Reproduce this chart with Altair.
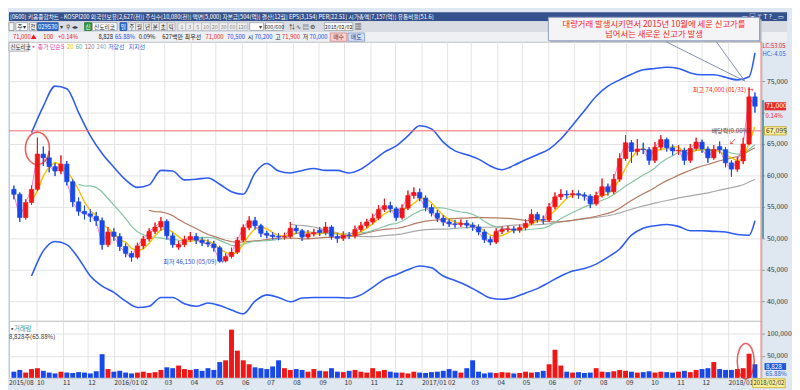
import altair as alt
import pandas as pd

FONT = "Noto Sans CJK KR"

# ---------------- data: weekly candles (thousand KRW), volumes (thousand shares) -------------
first_week = "2015-09-04"
opens = [57.8, 57.0, 53.3, 55.7, 57.8, 63.4, 62.8, 61.4, 60.7, 61.8,
         59.0, 55.8, 54.3, 53.9, 53.5, 52.8, 49.0, 51.0, 50.3, 48.7,
         47.6, 47.0, 48.8, 49.9, 51.1, 51.8, 52.7, 50.4, 48.6, 49.0,
         49.8, 50.3, 49.7, 49.3, 49.1, 48.5, 46.4, 47.1, 47.8, 49.7,
         51.7, 52.8, 52.0, 50.8, 50.5, 50.3, 50.2, 50.3, 51.6, 51.2,
         50.2, 50.7, 51.3, 50.9, 51.8, 50.3, 50.0, 50.5, 50.4, 51.4,
         52.0, 52.6, 53.2, 54.6, 55.2, 54.7, 53.3, 54.8, 56.8, 57.3,
         56.4, 54.9, 54.0, 53.2, 52.6, 52.3, 52.2, 52.4, 52.1, 51.8,
         51.0, 49.8, 49.4, 51.1, 51.4, 51.5, 51.3, 51.7, 52.4, 53.8,
         53.0, 52.9, 55.0, 56.6, 57.0, 56.9, 57.1, 56.9, 56.7, 55.5,
         56.8, 58.2, 57.4, 59.4, 62.7, 65.2, 63.8, 64.2, 64.1, 62.4,
         64.5, 65.7, 64.4, 63.9, 64.0, 62.4, 64.3, 65.3, 64.2, 62.8,
         64.6, 64.1, 62.0, 61.0, 62.3, 65.0, 72.5]
closes = [57.0, 53.3, 55.7, 57.8, 63.4, 62.8, 61.4, 60.7, 61.8, 59.0,
          55.8, 54.3, 53.9, 53.5, 52.8, 49.0, 51.0, 50.3, 48.7, 47.6,
          47.0, 48.8, 49.9, 51.1, 51.8, 52.7, 50.4, 49.0, 49.0, 49.8,
          50.3, 49.7, 49.3, 49.1, 48.5, 46.4, 47.1, 47.8, 49.7, 51.7,
          52.8, 52.0, 50.8, 50.5, 50.3, 50.2, 50.3, 51.6, 51.2, 50.2,
          50.7, 50.9, 50.9, 51.8, 50.3, 50.0, 50.5, 50.4, 51.4, 52.0,
          52.6, 53.2, 54.6, 55.2, 54.7, 53.3, 54.8, 56.8, 57.3, 56.4,
          54.9, 54.0, 53.2, 52.6, 52.3, 52.2, 52.4, 52.1, 51.8, 51.0,
          49.8, 49.4, 51.1, 51.4, 51.5, 51.3, 51.7, 52.4, 53.8, 53.0,
          52.9, 55.0, 56.6, 57.0, 56.9, 57.1, 56.9, 56.7, 55.5, 56.8,
          58.2, 57.4, 59.4, 62.7, 65.2, 63.8, 64.2, 64.1, 62.4, 64.5,
          65.7, 64.4, 63.9, 64.0, 62.4, 64.3, 65.3, 64.2, 62.8, 64.1,
          64.1, 62.0, 61.0, 62.3, 65.0, 72.5, 71.0]
highs = [58.4, 57.3, 56.2, 58.4, 66.0, 64.6, 63.9, 62.0, 63.2, 62.3,
         59.4, 56.5, 55.2, 54.6, 54.2, 53.3, 51.8, 51.6, 50.8, 49.2,
         48.0, 49.3, 50.4, 51.6, 52.5, 53.4, 53.0, 50.9, 49.6, 50.4,
         51.0, 50.8, 50.2, 49.8, 49.6, 48.8, 47.6, 48.5, 50.2, 52.2,
         53.5, 53.4, 52.3, 51.2, 51.0, 50.8, 50.9, 52.6, 52.1, 51.5,
         51.3, 51.5, 51.8, 52.6, 52.1, 50.8, 51.1, 51.0, 52.0, 52.6,
         53.1, 53.9, 55.3, 56.3, 55.8, 55.0, 55.4, 57.6, 58.1, 57.9,
         56.8, 55.4, 54.5, 53.7, 53.1, 52.9, 53.0, 52.9, 52.5, 52.2,
         51.4, 50.3, 51.6, 51.9, 52.0, 51.9, 52.2, 53.0, 54.6, 54.2,
         53.6, 55.6, 57.3, 57.8, 57.6, 57.7, 57.6, 57.3, 57.0, 57.4,
         59.5, 58.7, 60.2, 63.5, 66.4, 65.6, 65.8, 65.2, 64.5, 65.3,
         66.4, 66.0, 64.9, 64.8, 64.4, 65.0, 66.0, 65.7, 64.6, 64.8,
         65.4, 64.5, 62.4, 62.9, 66.0, 74.0, 73.2]
lows = [56.2, 52.6, 53.0, 55.3, 57.5, 61.5, 60.5, 59.9, 60.2, 58.4,
        55.0, 53.6, 53.0, 52.6, 52.0, 48.2, 48.6, 49.6, 48.0, 47.0,
        46.3, 46.7, 48.3, 49.5, 50.7, 51.2, 49.8, 48.5, 48.2, 48.6,
        49.4, 49.1, 48.8, 48.6, 47.9, 46.15, 46.2, 46.8, 47.5, 49.4,
        51.3, 51.4, 50.2, 50.0, 49.8, 49.7, 49.8, 50.0, 50.7, 49.6,
        49.9, 50.3, 50.4, 50.5, 49.8, 49.3, 49.6, 49.9, 50.0, 51.0,
        51.6, 52.2, 52.9, 54.2, 54.1, 52.8, 53.0, 54.5, 56.3, 55.9,
        54.3, 53.5, 52.6, 52.0, 51.8, 51.7, 51.8, 51.6, 51.2, 50.5,
        49.3, 48.9, 49.1, 50.7, 51.0, 50.8, 50.9, 51.3, 52.1, 52.5,
        52.3, 52.6, 54.6, 56.1, 56.3, 56.4, 56.3, 56.0, 54.8, 55.2,
        56.5, 56.8, 57.0, 59.0, 62.3, 62.0, 63.2, 63.4, 61.7, 62.0,
        64.0, 63.8, 63.2, 63.3, 61.7, 62.0, 63.9, 63.6, 62.0, 62.5,
        63.5, 61.3, 59.8, 60.6, 61.8, 64.8, 70.0]
volumes = [14, 18, 12, 20, 22, 16, 12, 10, 14, 12, 11, 13, 12, 10, 15,
           54, 20,
           14, 16, 12, 10, 12, 14, 11, 13, 18,
           24, 22, 28, 20, 18,
           20, 16, 22, 18,
           36, 40, 110, 62, 40, 31,
           24, 22, 20, 26, 40, 22, 18, 20,
           18, 14, 20, 16, 15, 22, 14, 13, 16, 18, 14, 12, 22, 15, 18, 14, 12,
           12, 10, 14, 12, 11, 13, 14, 16, 20, 16, 12, 22, 40, 14,
           10, 12, 11, 13, 12, 10, 11, 14, 12, 13, 16,
           31, 64, 28,
           14, 12, 13, 11, 12, 22, 14, 13, 15, 18, 16, 14, 12, 13, 15, 12, 14, 13, 12, 14, 16, 13, 18, 20,
           22, 36, 20, 18,
           18, 20, 22, 55, 31]

# resistance (저항선) / support (지지선) lines, every two weeks from 2015-09-25, plus last day
band_first = "2015-09-25"
upper_band = [66.8, 71.0, 74.2, 73.8, 70.0, 66.3, 63.5, 61.3, 59.3, 58.1,
              58.5, 60.8, 60.7, 59.3, 59.4, 59.6, 58.6, 57.4, 57.0, 60.4,
              61.9, 60.7, 60.4, 60.8, 61.1, 60.8, 60.8, 60.4, 61.0, 62.3,
              63.7, 64.7, 66.3, 67.9, 67.4, 65.3, 63.9, 63.3, 62.6, 61.5,
              60.9, 61.6, 62.5, 63.3, 64.2, 65.8, 68.0, 70.3, 72.6, 74.2,
              75.2, 76.1, 76.8, 77.0, 77.2, 77.0, 76.3, 76.0, 76.0, 75.6,
              75.2, 75.7, 79.5]
lower_band = [44.0, 48.0, 49.5, 49.0, 46.8, 44.0, 42.4, 41.4, 40.0, 39.0,
              39.2, 40.6, 40.6, 39.6, 39.2, 39.7, 39.3, 38.6, 38.0, 40.0,
              41.0, 40.6, 39.9, 40.5, 40.6, 40.6, 40.6, 40.5, 41.0, 42.2,
              43.5, 44.2, 45.0, 45.6, 45.3, 44.0, 43.3, 42.5, 41.5, 40.5,
              40.3, 40.6, 41.3, 42.0, 43.0, 44.0, 44.8, 45.2, 45.9, 47.0,
              48.3, 50.5, 51.6, 52.0, 52.2, 51.9, 51.2, 51.2, 51.1, 51.0,
              50.6, 50.5, 52.8]

month_ticks = [(2015, m) for m in (10, 11, 12)] + [(2016, m) for m in range(1, 13)] + \
              [(2017, m) for m in range(1, 13)] + [(2018, 1)]

# ---------------- tables ----------------
n = len(closes)
assert len(opens) == n and len(highs) == n and len(lows) == n and len(volumes) == n
dates = pd.date_range(first_week, periods=n, freq="7D").strftime("%Y-%m-%d")
df = pd.DataFrame({
    "date": dates,
    "open": [v * 1000 for v in opens],
    "close": [v * 1000 for v in closes],
    "high": [v * 1000 for v in highs],
    "low": [v * 1000 for v in lows],
    "volume": [v * 1000 for v in volumes],
})
df["dir"] = ["up" if c >= o else "down" for o, c in zip(df["open"], df["close"])]
df["ma5"] = df["close"]
df["ma20"] = df["close"].rolling(4).mean()
df["ma60"] = df["close"].rolling(12).mean()
df["ma120"] = df["close"].rolling(24).mean()
df["ma240"] = df["close"].rolling(48).mean()

assert len(upper_band) == len(lower_band) == 63
band_dates = list(pd.date_range(band_first, periods=62, freq="14D").strftime("%Y-%m-%d")) + ["2018-02-02"]
bands = pd.DataFrame({"date": band_dates,
                      "upper": [v * 1000 for v in upper_band],
                      "lower": [v * 1000 for v in lower_band]})

peak_mark = pd.DataFrame({"date": ["2015-10-02"], "price": [64300]})
vol_mark = pd.DataFrame({"date": ["2018-01-22"], "volume": [38000]})
ONE = pd.DataFrame({"k": [0]})

# ---------------- layout constants ----------------
PW = 766
HEAD_H = 30
PRICE_H = 284
VOL_H = 58
FULL_W = 792
RED = "#f01616"
BLUE = "#1848e8"

months = [alt.DateTime(year=y, month=m, date=1, utc=True) for y, m in month_ticks]
xscale = alt.Scale(type="utc", domain=[alt.DateTime(year=2015, month=9, date=4, utc=True),
                                       alt.DateTime(year=2018, month=2, date=4, utc=True)])
xa_price = alt.Axis(values=months, labels=False, ticks=False, domain=False, grid=True,
                    gridColor="#e2e2e2", title=None)
xa_vol = alt.Axis(values=months,
                  labelExpr="utcFormat(datum.value, utcmonth(datum.value) == 0 ? '%Y/%m' : '%m')",
                  labelAlign="left", labelPadding=2, labelFontSize=6.8, labelFont=FONT,
                  labelColor="#333333", ticks=False, domain=False, grid=True, gridColor="#e2e2e2",
                  title=None, labelOverlap=False, labelFlush=False)
yscale = alt.Scale(domain=[36875, 81250], zero=False, nice=False)
ya_price = alt.Axis(orient="right", values=list(range(40000, 80000, 5000)),
                    labelExpr="datum.value == 70000 ? '' : format(datum.value, ',')",
                    labelFontSize=7, labelFont=FONT, labelColor="#333333", tickSize=3,
                    tickColor="#999999", domain=False, grid=True, gridColor="#e2e2e2",
                    labelPadding=2, title=None)
vscale = alt.Scale(domain=[0, 130000], nice=False, zero=True)
ya_vol = alt.Axis(orient="right", values=[50000, 100000], labelExpr="format(datum.value, ',')",
                  labelFontSize=7, labelFont=FONT, labelColor="#333333", tickSize=3, tickColor="#999999",
                  domain=False, grid=True, gridColor="#e2e2e2", labelPadding=2, title=None)

X_P = alt.X("date:T", scale=xscale, axis=xa_price)
X_V = alt.X("date:T", scale=xscale, axis=xa_vol)


def YP(field):
    return alt.Y(f"{field}:Q", scale=yscale, axis=ya_price)


dir_scale = alt.Scale(domain=["up", "down"], range=[RED, BLUE])
COLOR = alt.Color("dir:N", scale=dir_scale, legend=None)
STROKE = alt.Stroke("dir:N", scale=dir_scale, legend=None)

ELL_P = "M-0.74,0A0.74,1 0 1,1 0.74,0A0.74,1 0 1,1 -0.74,0Z"
ELL_V = "M-0.48,0A0.48,1 0 1,1 0.48,0A0.48,1 0 1,1 -0.48,0Z"


def T(s, x, y, color="#222222", size=7.0, align="left", weight="normal", baseline="middle"):
    return alt.Chart(ONE).mark_text(text=s, align=align, baseline=baseline, fontSize=size,
                                    font=FONT, color=color, fontWeight=weight).encode(
        x=alt.value(x), y=alt.value(y))


def R(x1, y1, x2, y2, fill, stroke=None, sw=0.8):
    kw = dict(fill=fill)
    if stroke is not None:
        kw.update(stroke=stroke, strokeWidth=sw)
    return alt.Chart(ONE).mark_rect(**kw).encode(
        x=alt.value(x1), x2=alt.value(x2), y=alt.value(y1), y2=alt.value(y2))


def L(x1, y1, x2, y2, color, sw=1.0):
    return alt.Chart(ONE).mark_rule(color=color, strokeWidth=sw).encode(
        x=alt.value(x1), x2=alt.value(x2), y=alt.value(y1), y2=alt.value(y2))


# ---------------- header (title bar, toolbar, quote row, callout) ----------------
TITLE = ("[0600] 키움종합차트 - KOSPI200 외국인보유[2,627(천)] 주식수[10,080(천)] 액면[5,000] "
         "자본금[504(억)] 결산[12월] EPS[3,154] PER[22.51] 시가총액[7,157(억)] 유통비율[51.6]")
QY = 25.2
QS = 6.0
hdr = [
    R(0, 0, FULL_W, 9, "#34518d"),
    R(0, 9, FULL_W, 20, "#d9dce2"),
    R(0, 20, FULL_W, 30, "#eef0f3"),
    T(TITLE, 1, 4.8, "white", 5.8),
    T("▭ ▣ ⊤ T ?  _ ▭", 789, 4.8, "white", 6.5, align="right"),
    R(0, 10.5, 5, 18.5, "#f6f6f6", "#888888"),
    R(7, 10.5, 19, 18.5, "white", "#9aa0a8"), T("주▾", 8.5, 14.6, "#222", 6),
    R(21, 10.5, 28, 18.5, "white", "#9aa0a8"), T("전", 24.5, 14.6, "#222", 6, align="center"),
    R(29, 10.5, 50, 18.5, "#3468c8", "#2050a0"), T("029530", 39.5, 14.6, "white", 6, align="center"),
    T("▾", 52, 14.6, "#333", 6), T("⚲", 58, 14.6, "#333", 6.5), T("◂▸", 64, 14.6, "#333", 6),
    R(77, 10.5, 84, 18.5, "#2f9a3f", "#207a30"), T("신", 80.5, 14.6, "white", 6, align="center"),
    R(85, 10.5, 110, 18.5, "white", "#9aa0a8"), T("신도리코", 86.5, 14.6, "#222", 5.8),
    R(113, 10.5, 120, 18.5, "#3470d0", "#2050a0"), T("일", 116.5, 14.6, "white", 5.8, align="center"),
]
for s, cx in [("주", 125), ("월", 133), ("년", 141), ("분", 149), ("초", 157), ("틱", 165)]:
    hdr += [R(cx - 4, 10.5, cx + 4, 18.5, "#eeeeee", "#a8acb4"), T(s, cx, 14.6, "#222", 5.6, align="center")]
for s, cx, w in [("1", 176, 4), ("3", 184, 4), ("5", 192, 4), ("10", 200.5, 4.5), ("20", 209.5, 4.5),
                 ("30", 218.5, 4.5), ("60", 227.5, 4.5), ("120", 237.5, 5.5)]:
    hdr += [R(cx - w, 10.5, cx + w, 18.5, "#eeeeee", "#b8bcc4"),
            T(s, cx, 14.6, "#888", 5.4, align="center")]
hdr += [
    R(245, 10.5, 259, 18.5, "white", "#9aa0a8"), T("▾", 254, 14.6, "#333", 6),
    R(261, 10.5, 279, 18.5, "white", "#9aa0a8"), T("600/600", 270, 14.6, "#222", 5.4, align="center"),
    T("⇅ ∿ ▤ ⚙", 285, 14.6, "#333", 6.2),
    R(321, 10.5, 350, 18.5, "white", "#9aa0a8"), T("2018/02/02", 335.5, 14.6, "#222", 5.4, align="center"),
    T("▦", 352, 14.6, "#333", 7),
    # quote row
    T("71,000▲", 4, QY, RED, QS), T("100", 35, QY, RED, QS), T("+0.14%", 50, QY, RED, QS),
    T("8,828", 91, QY, "#222", QS), T("65.88%", 108, QY, BLUE, QS), T("0.09%", 132, QY, "#222", QS),
    T("627백만", 156, QY, "#222", QS), T("최우선", 179, QY, "#222", QS),
    T("71,000", 200, QY, RED, QS), T("70,500", 222, QY, BLUE, QS), T("시", 243, QY, "#222", QS),
    T("70,200", 250, QY, BLUE, QS), T("고", 271, QY, "#222", QS), T("71,900", 278, QY, RED, QS),
    T("저", 299, QY, "#222", QS), T("70,000", 306, QY, BLUE, QS),
    R(327, 21, 344, 29.5, "#f8d0d0", "#c88080"), T("매수", 335.5, QY, "#802020", QS, align="center"),
    R(345, 21, 362, 29.5, "#d2def4", "#8098c8"), T("매도", 353.5, QY, "#203880", QS, align="center"),
    # callout box
    R(551, 7, 766, 31, "#b4b8c0"),
    R(549, 5, 764, 29, "#f4f4f6", "#8a9aba", 1),
    T("대량거래 발생시키면서 2015년 10월에 세운 신고가를", 656.5, 11.5, "#f02626", 8.5, align="center"),
    T("넘어서는 새로운 신고가 발생", 656.5, 22.5, "#f02626", 8.5, align="center"),
]
header = alt.layer(*hdr).properties(width=FULL_W, height=HEAD_H,
                                    view=alt.ViewBackground(stroke="transparent", fill="transparent"))

# ---------------- price panel ----------------
wick = alt.Chart(df).mark_rule(strokeWidth=1).encode(x=X_P, y=YP("low"), y2="high:Q", color=COLOR)
body = alt.Chart(df).mark_bar(size=4.5, strokeWidth=0.6).encode(
    x=X_P, y=YP("open"), y2="close:Q", color=COLOR, stroke=STROKE)


def ma(field, color, w=1.2):
    return alt.Chart(df).mark_line(color=color, strokeWidth=w).encode(x=X_P, y=YP(field))


band_up = alt.Chart(bands).mark_line(color="#2f5cf0", strokeWidth=1.6, interpolate="monotone").encode(
    x=X_P, y=YP("upper"))
band_lo = alt.Chart(bands).mark_line(color="#2f5cf0", strokeWidth=1.6, interpolate="monotone").encode(
    x=X_P, y=YP("lower"))

hline = alt.Chart(ONE).mark_rule(color="#f26a6a", strokeWidth=1).encode(
    y=alt.datum(67095), x=alt.value(0), x2=alt.value(PW))
cursor_p = L(765.5, 0, 765.5, PRICE_H, "#f08080", 1.2)
teal = alt.Chart(ONE).mark_rule(color="#2a8c9c", strokeWidth=1.5).encode(
    x=alt.value(767.5), y=alt.datum(72000), y2=alt.datum(50000))
circle_p = alt.Chart(peak_mark).mark_point(shape=ELL_P, size=1089, filled=False, color="#e21c1c",
                                           strokeWidth=1.6).encode(x=X_P, y=YP("price"))
price_box = alt.Chart(ONE).mark_rect(fill="#e82a2a").encode(
    x=alt.value(769), x2=alt.value(791), y=alt.datum(71650), y2=alt.datum(70350))
price_txt = alt.Chart(ONE).mark_text(text="71,000", align="left", fontSize=7, font=FONT, color="white").encode(
    x=alt.value(770.5), y=alt.datum(71000))
prev_box = alt.Chart(ONE).mark_rect(fill="#fff09a", stroke="#b8a020", strokeWidth=0.8).encode(
    x=alt.value(769), x2=alt.value(791), y=alt.datum(67745), y2=alt.datum(66445))
prev_txt = alt.Chart(ONE).mark_text(text="67,095", align="left", fontSize=7, font=FONT, color="#333").encode(
    x=alt.value(770.5), y=alt.datum(67095))

LS = 6.0
price_layers = [
    wick, band_up, band_lo, hline,
    ma("ma240", "#a8a8a8"), ma("ma120", "#b57a62"), ma("ma60", "#86c4a4"), ma("ma20", "#f2c200", 1.4),
    ma("ma5", "#f07cc8", 1.0),
    wick, body,
    cursor_p, teal, circle_p,
    L(669, 0, 749, 40, "#8090b0", 1), L(720, 0, 749, 40, "#8090b0", 1),
    price_box, price_txt, prev_box, prev_txt,
    T("0.14%", 770, 75.5, RED, 6.2),
    T("LC:53.05", 767, 4, RED, 6), T("HC:-4.05", 767, 12.5, "#3060e0", 6),
    R(0, 0.5, 20, 9.5, "#f0f0f0", "#a0a0a0"), T("신도리코", 1.5, 5.2, "#222", 5.6),
    T("▪ 종가 단순", 22, 5.2, "#e0409a", LS), T("5", 53, 5.2, "#e0409a", LS),
    T("20", 59, 5.2, "#e8b800", LS), T("60", 68, 5.2, "#5aa880", LS), T("120", 77, 5.2, "#b07050", LS),
    T("240", 89, 5.2, "#999999", LS), T("저항선", 101, 5.2, "#3060e0", LS), T("지지선", 122, 5.2, "#3060e0", LS),
    T("최고 74,000 (01/31) →", 758, 49, RED, 6.3, align="right"),
    T("최저 46,150 (05/09) →", 157, 224.5, "#3050d0", 6.3),
    T("배당락(0.00%)", 715, 91, "#444444", 6.3),
    T("↙", 733, 102, RED, 7.5),
]
price = alt.layer(*price_layers).properties(width=PW, height=PRICE_H)

# ---------------- volume panel ----------------
vbars = alt.Chart(df).mark_bar(size=5).encode(
    x=X_V, y=alt.Y("volume:Q", scale=vscale, axis=ya_vol), color=COLOR)
circle_v = alt.Chart(vol_mark).mark_point(shape=ELL_V, size=1296, filled=False, color="#e21c1c",
                                          strokeWidth=1.6).encode(
    x=X_V, y=alt.Y("volume:Q", scale=vscale, axis=ya_vol))
vol_layers = [
    vbars, circle_v,
    L(765.5, 0, 765.5, VOL_H, "#f08080", 1.2),
    T("▪", 0, 8, "#444", 6.5), T("거래량", 5, 8, "#2a9aa8", 6.5),
    T("8,828주(65.88%)", 0, 16, "#333333", 6.3),
    R(769, 43, 791, 50, "#2458d8"), T("8,828", 770.5, 46.6, "white", 6.5),
    T("65.88%", 770, 54.5, "#2458d8", 6.3),
    T("2015/08", 0, VOL_H + 2, "#333333", 6.8, baseline="top"),
    R(757, VOL_H + 1, 790, VOL_H + 10, "#fff09a", "#c8a820"),
    T("2018/02/02", 773.5, VOL_H + 2, "#333333", 6.0, align="center", baseline="top"),
]
volume = alt.layer(*vol_layers).properties(width=PW, height=VOL_H)

chart = alt.vconcat(header, price, volume, spacing=0, bounds="flush").properties(
    padding=0, background="#dfe7f0"
).configure(font=FONT).configure_view(fill="white", stroke="#c4c4c4", strokeWidth=1)

chart.save("out.html", embed_options={"renderer": "svg", "actions": False})
